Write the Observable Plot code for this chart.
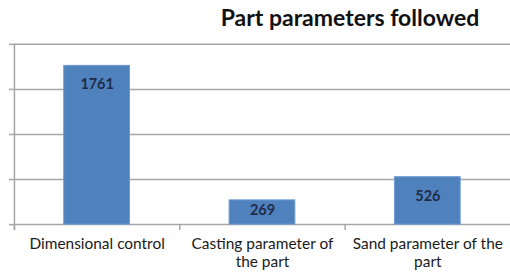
<!DOCTYPE html>
<html>
<head>
<meta charset="utf-8">
<script src="https://cdn.jsdelivr.net/npm/d3@7"></script>
<script src="https://cdn.jsdelivr.net/npm/@observablehq/plot@0.6"></script>
<style>
  html, body { margin: 0; padding: 0; background: #fff; }
  #wrap { position: relative; width: 510px; height: 277px; overflow: hidden; }
  #title { position: absolute; left: 350px; top: 3px; transform: translateX(-50%);
           font-family: Lato, "Open Sans", sans-serif; font-weight: bold; font-size: 23px;
           color: #111; white-space: nowrap; }
  #chart { position: absolute; left: 0; top: 0; }
</style>
</head>
<body>
<div id="wrap">
  <div id="chart"></div>
  <div id="title">Part parameters followed</div>
</div>
<script>
const titleText = "Part parameters followed";
const categories = ["Dimensional control", "Casting parameter of the part", "Sand parameter of the part"];
const tickLabels = ["Dimensional control", "Casting parameter of\nthe part", "Sand parameter of the\npart"];
const values = [1761, 269, 526];
const yTicks = [0, 500, 1000, 1500, 2000];

const data = categories.map((c, i) => ({cat: c, label: tickLabels[i], value: values[i]}));

const W = 512, H = 277;
const mL = 14, mR = 0, mT = 44, mB = 52;
const step = (W - mL - mR) / categories.length;
const pxPerUnit = (H - mT - mB) / 2000;

const plot = Plot.plot({
  width: W,
  height: H,
  marginLeft: mL,
  marginRight: mR,
  marginTop: mT,
  marginBottom: mB,
  style: {fontFamily: "Lato, 'Open Sans', sans-serif", background: "transparent", overflow: "visible"},
  x: {domain: categories, paddingInner: 0.6, paddingOuter: 0.3, axis: null},
  y: {domain: [0, 2000], axis: null, label: null},
  marks: [
    Plot.gridY(yTicks, {stroke: "#a6a6a6", strokeOpacity: 1, strokeWidth: 1.5}),
    Plot.axisY(yTicks, {tickSize: 5, tickFormat: () => "", label: null, stroke: "#a6a6a6", strokeWidth: 1.5}),
    Plot.ruleX([categories[0]], {x: d => d, y1: -66, y2: 2000, dx: -step / 2, stroke: "#a6a6a6", strokeWidth: 1.5}),
    Plot.ruleX(categories, {x: d => d, y1: 0, y2: -66, dx: -step / 2, stroke: "#a6a6a6", strokeWidth: 1.5}),
    Plot.barY(data, {x: "cat", y: "value", fill: "#4f81bd", stroke: "#6f9bd3", strokeWidth: 1}),
    Plot.text(data, {
      x: "cat",
      y: d => Math.max(d.value - 19 / pxPerUnit, d.value * 0.6),
      text: d => String(d.value),
      fill: "#1f2b4a", fontWeight: "bold", fontSize: 14.5
    }),
    Plot.text(data, {
      x: "cat", y: () => 0, text: "label", dy: 12, lineAnchor: "top",
      fill: "#1a1a1a", fontSize: 15.5, lineHeight: 1.15
    })
  ]
});
document.getElementById("chart").appendChild(plot);
</script>
</body>
</html>
